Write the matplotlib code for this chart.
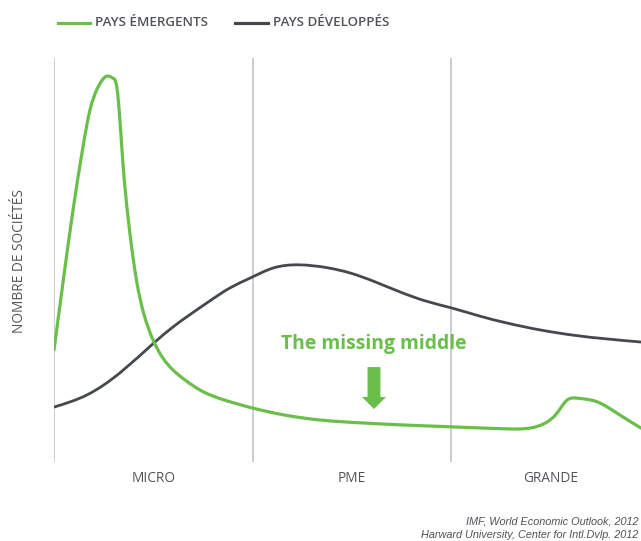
import numpy as np
import matplotlib
matplotlib.use("Agg")
import matplotlib.pyplot as plt
from matplotlib.path import Path
from matplotlib.patches import PathPatch, FancyArrow
from matplotlib.lines import Line2D

# Firm-size axis: 0-1 micro, 1-2 PME, 2-3 grande
categories = ["MICRO", "PME", "GRANDE"]
category_centres = [0.5, 1.5, 2.5]
boundaries = [0, 1, 2]

# Number of firms (relative index) - emerging economies
emerging_x = [0.0, 0.045, 0.096, 0.146, 0.181, 0.217, 0.247, 0.277, 0.297,
              0.317, 0.332, 0.348, 0.373, 0.393, 0.418, 0.453, 0.499, 0.549,
              0.599, 0.660, 0.736, 0.861, 0.997, 1.164, 1.340, 1.542, 1.743,
              2.005, 2.282, 2.398, 2.484, 2.534, 2.584, 2.635, 2.736, 2.836,
              2.957]
emerging_y = [27.7, 44.3, 62.4, 78.0, 87.1, 92.3, 94.8, 95.5, 95.0,
              92.6, 84.7, 73.5, 60.6, 52.5, 44.3, 36.6, 30.2, 25.7,
              22.8, 20.3, 17.8, 15.3, 13.4, 11.6, 10.4, 9.7, 9.2,
              8.7, 8.2, 8.4, 9.9, 12.1, 15.3, 15.8, 14.9, 12.1,
              8.4]

# Number of firms (relative index) - developed economies
developed_x = [0.0, 0.166, 0.338, 0.504, 0.599, 0.771, 0.887, 0.987, 1.103,
               1.239, 1.375, 1.491, 1.617, 1.743, 1.869, 2.005, 2.146, 2.282,
               2.448, 2.615, 2.957]
developed_y = [13.6, 16.6, 22.3, 29.5, 33.4, 39.4, 43.1, 45.5, 48.0,
               48.8, 48.1, 46.8, 44.6, 42.1, 39.9, 38.1, 36.1, 34.4,
               32.7, 31.4, 29.7]

GREEN = "#6abf4b"
DARK = "#45484d"
GREY_TXT = "#505358"


def spline_slopes(x, y):
    """End-point slopes of a natural cubic spline through (x, y)."""
    n = len(x)
    h = np.diff(x)
    A = np.zeros((n, n))
    r = np.zeros(n)
    A[0, 0] = A[-1, -1] = 1.0
    for i in range(1, n - 1):
        A[i, i - 1] = h[i - 1]
        A[i, i] = 2 * (h[i - 1] + h[i])
        A[i, i + 1] = h[i]
        r[i] = 6 * ((y[i + 1] - y[i]) / h[i] - (y[i] - y[i - 1]) / h[i - 1])
    M = np.linalg.solve(A, r)
    m = np.empty(n)
    for i in range(n - 1):
        m[i] = (y[i + 1] - y[i]) / h[i] - h[i] * (2 * M[i] + M[i + 1]) / 6
    m[-1] = (y[-1] - y[-2]) / h[-1] + h[-1] * (M[-2] + 2 * M[-1]) / 6
    return m


def smooth_path(xs, ys):
    """Smooth curve through the points, as cubic Bezier segments."""
    x = np.asarray(xs, float)
    y = np.asarray(ys, float)
    m = spline_slopes(x, y)
    verts = [(x[0], y[0])]
    codes = [Path.MOVETO]
    for i in range(len(x) - 1):
        h = x[i + 1] - x[i]
        verts += [(x[i] + h / 3, y[i] + m[i] * h / 3),
                  (x[i + 1] - h / 3, y[i + 1] - m[i + 1] * h / 3),
                  (x[i + 1], y[i + 1])]
        codes += [Path.CURVE4] * 3
    return Path(verts, codes)


fig = plt.figure(figsize=(6.41, 5.41), dpi=100)
ax = fig.add_axes([54 / 641, 1 - 462 / 541, (641 - 54) / 641, 404 / 541])
ax.set_xlim(0, (641 - 54) / 198.5)
ax.set_ylim(0, 100)
ax.axis("off")

for b in boundaries:
    ax.axvline(b, ymin=0, ymax=1, color="#c9c9c9", lw=1.3, zorder=1)

ax.add_patch(PathPatch(smooth_path(developed_x, developed_y), fill=False,
                       edgecolor=DARK, lw=2.0, capstyle="round",
                       joinstyle="round", zorder=3))
ax.add_patch(PathPatch(smooth_path(emerging_x, emerging_y), fill=False,
                       edgecolor=GREEN, lw=2.3, capstyle="round",
                       joinstyle="round", zorder=4))

for c, lab in zip(category_centres, categories):
    ax.text(c, -4, lab, ha="center", va="center", fontsize=9.8,
            family="Open Sans", color=GREY_TXT)

# Annotation
ax.text(1.612, 29.2, "The missing middle", ha="center", va="center",
        fontsize=13.9, fontweight="bold", family="Open Sans", color=GREEN)
ax.add_patch(FancyArrow(1.612, 23.5, 0, -10.4, width=0.065, head_width=0.121,
                        head_length=3.0, length_includes_head=True,
                        color=GREEN, lw=0, zorder=5))

# Y label
fig.text(20 / 641, 1 - 261 / 541, "NOMBRE DE SOCIÉTÉS", rotation=90,
         ha="center", va="center", fontsize=9.8, family="Open Sans",
         color=GREY_TXT)

# Legend
y_leg = 1 - 23 / 541
fig.add_artist(Line2D([58 / 641, 90 / 641], [y_leg, y_leg],
                      transform=fig.transFigure, color=GREEN, lw=2.3))
fig.text(95 / 641, y_leg, "PAYS ÉMERGENTS", ha="left", va="center",
         fontsize=9.6, fontweight="semibold", family="Open Sans", color=GREY_TXT)
fig.add_artist(Line2D([235 / 641, 268 / 641], [y_leg, y_leg],
                      transform=fig.transFigure, color=DARK, lw=2.3))
fig.text(273 / 641, y_leg, "PAYS DÉVELOPPÉS", ha="left", va="center",
         fontsize=9.6, fontweight="semibold", family="Open Sans", color=GREY_TXT)

# Sources
fig.text(638 / 641, 1 - 521 / 541, "IMF, World Economic Outlook, 2012",
         ha="right", va="center", fontsize=7.8, style="italic",
         family=["Liberation Sans Narrow", "Liberation Sans"], color=GREY_TXT)
fig.text(638 / 641, 1 - 535 / 541, "Harward University, Center for Intl.Dvlp. 2012",
         ha="right", va="center", fontsize=7.8, style="italic",
         family=["Liberation Sans Narrow", "Liberation Sans"], color=GREY_TXT)

fig.savefig("out.png", dpi=100, facecolor="white")
